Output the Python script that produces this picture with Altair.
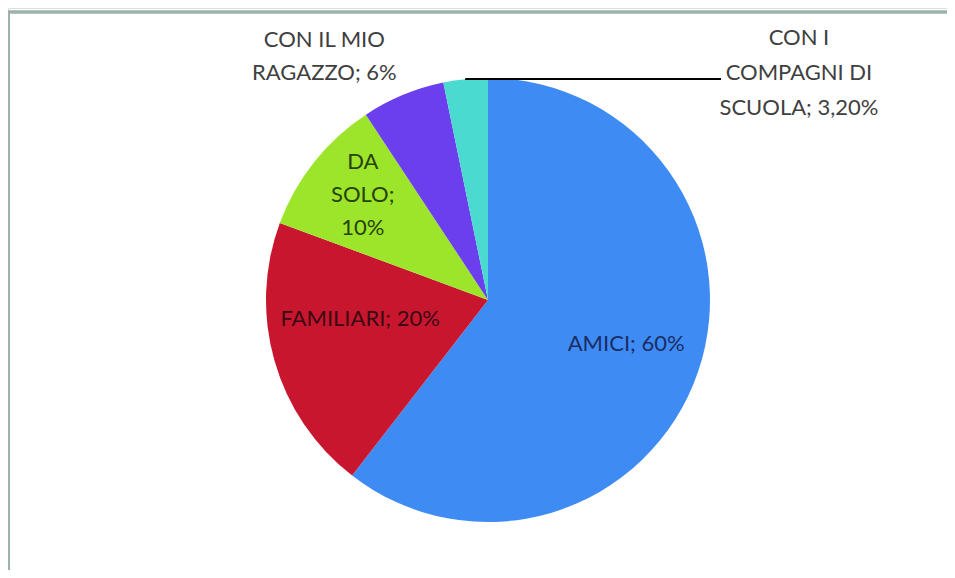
import math
import altair as alt
import pandas as pd

categories = ["AMICI", "FAMILIARI", "DA SOLO", "CON IL MIO RAGAZZO", "CON I COMPAGNI DI SCUOLA"]
values = [60, 20, 10, 6, 3.2]
labels = ["AMICI; 60%", "FAMILIARI; 20%", "DA\nSOLO;\n10%", "CON IL MIO\nRAGAZZO; 6%",
          "CON I\nCOMPAGNI DI\nSCUOLA; 3,20%"]
colors = ["#3E8CF3", "#C9162F", "#9DE52B", "#6B3EEE", "#4ADAD0"]

df = pd.DataFrame({"cat": categories, "value": values, "label": labels,
                   "idx": list(range(len(categories)))})

W, H = 939, 562
CX, CY, R = 480, 292, 222
FONT = "Lato"

base = alt.Chart(df).encode(
    theta=alt.Theta("value:Q", stack=True),
    order=alt.Order("idx:Q"),
    x=alt.value(CX),
    y=alt.value(CY),
)

pie = base.mark_arc(outerRadius=R, stroke=None).encode(
    color=alt.Color("cat:N", scale=alt.Scale(domain=categories, range=colors), legend=None)
)


def label_layer(cat, radius, dx, dy, color, lh=33):
    return base.transform_calculate(
        t=f"datum.cat == '{cat}' ? datum.label : ''"
    ).mark_text(
        radius=radius, dx=dx, dy=dy, font=FONT, fontSize=22, lineBreak="\n",
        lineHeight=lh, align="center", baseline="middle", color=color
    ).encode(text="t:N")


layers = [
    pie,
    label_layer("AMICI", 146, 0, -3, "#1B2C66"),
    label_layer("FAMILIARI", 133, 0, -18, "#3A0A12"),
    label_layer("DA SOLO", 160, 0, -38, "#27420A"),
    label_layer("CON IL MIO RAGAZZO", 263, -63, -17, "#404040"),
    label_layer("CON I COMPAGNI DI SCUOLA", 228, 334, -35, "#404040", lh=35),
]

# leader line from the small slice to its label
total = sum(values)
mid = (sum(values[:-1]) + values[-1] / 2) / total * 2 * math.pi
lx0 = CX + R * math.sin(mid)
ly = CY - R * math.cos(mid)
leader = alt.Chart(df).mark_rule(color="#000000", strokeWidth=1.2).encode(
    x=alt.value(lx0), x2=alt.value(713), y=alt.value(ly)
)

frame_top = alt.Chart(df).mark_rule(color="#9DB3AA", strokeWidth=2.5).encode(
    x=alt.value(0), x2=alt.value(W), y=alt.value(4)
)
frame_left = alt.Chart(df).mark_rule(color="#9DB3AA", strokeWidth=2).encode(
    x=alt.value(1), y=alt.value(3), y2=alt.value(H)
)

chart = alt.layer(frame_top, frame_left, *layers, leader).properties(
    width=W, height=H, padding=0, autosize=alt.AutoSizeParams(type="none")
).configure_view(stroke=None).configure(background="#FFFFFF")

chart.save("out.html", embed_options={"renderer": "svg", "actions": False})
